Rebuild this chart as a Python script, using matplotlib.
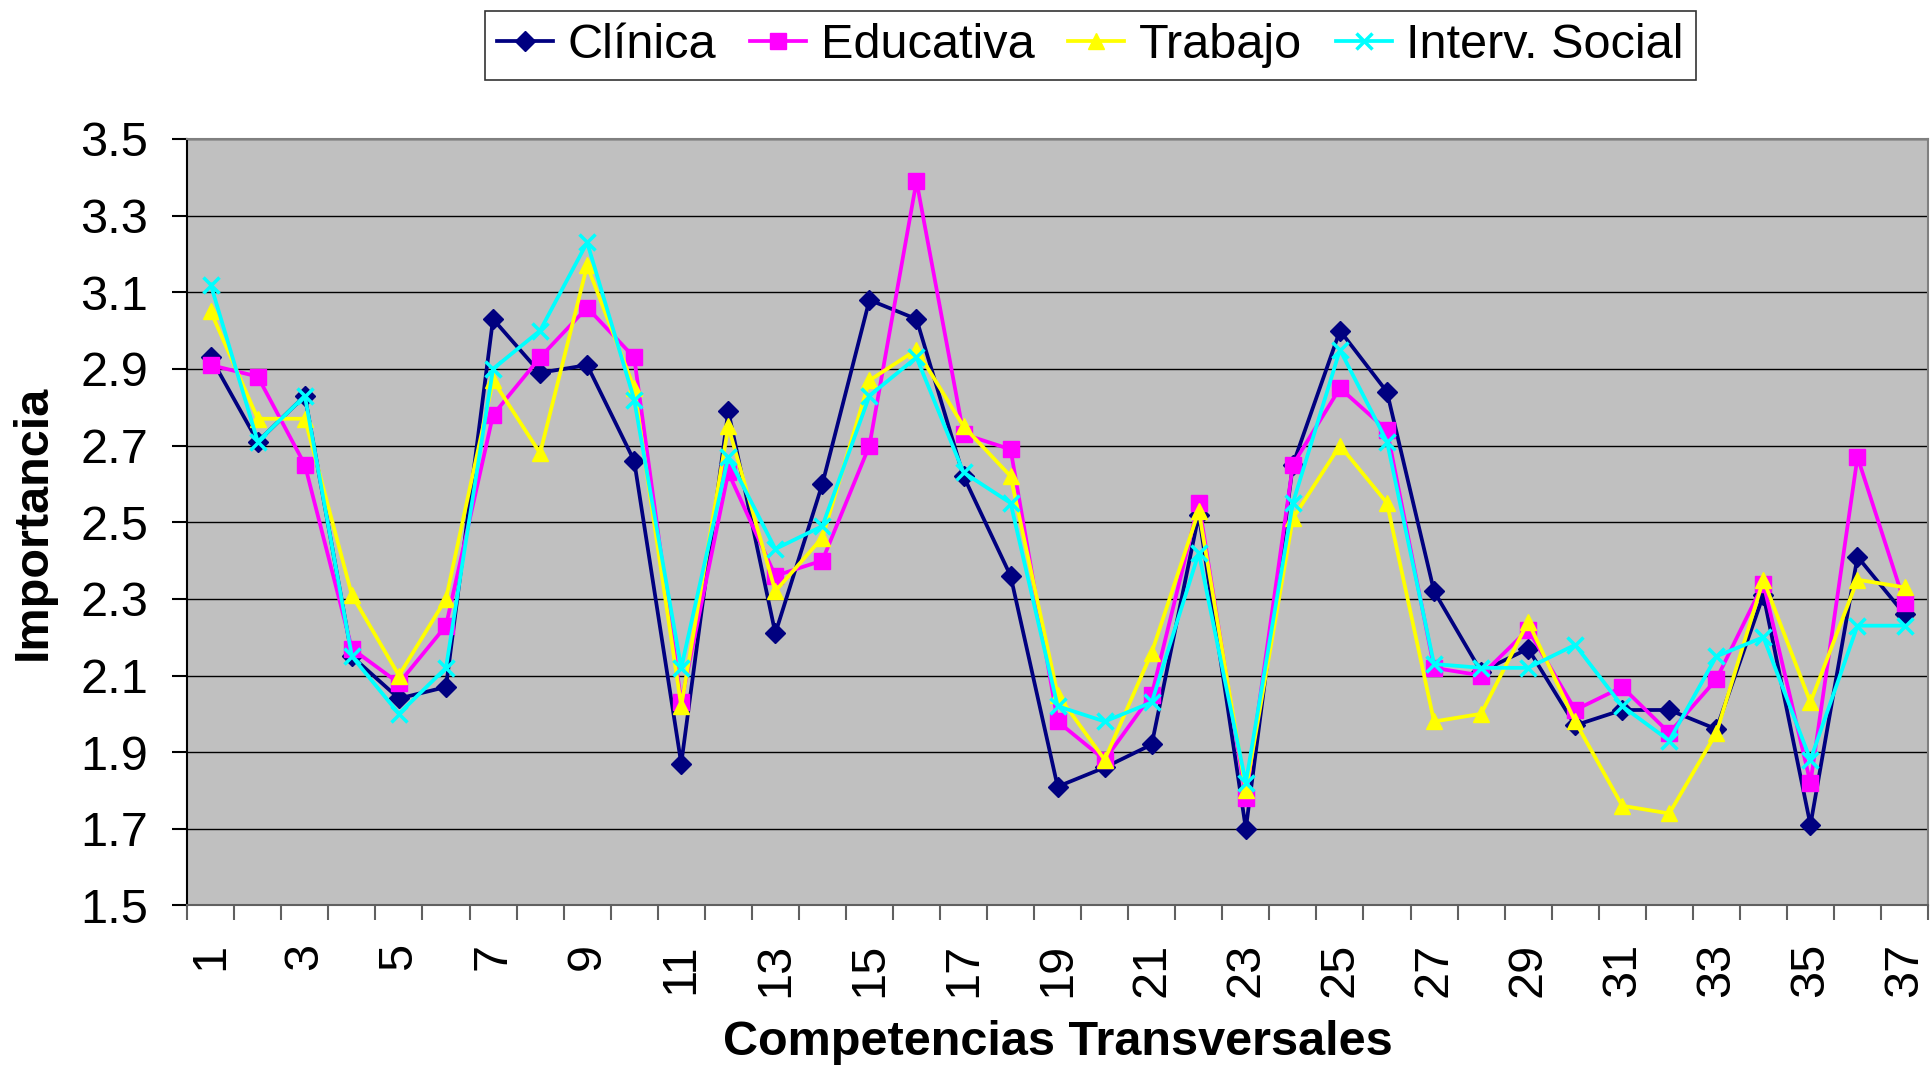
import numpy as np
import matplotlib
matplotlib.use('Agg')
import matplotlib.pyplot as plt
from matplotlib.ticker import FixedLocator, NullFormatter

plt.rcParams['font.family'] = ['Liberation Sans', 'DejaVu Sans']

# competencias 1..37
competencias = list(range(1, 38))

clinica = [2.93, 2.71, 2.83, 2.15, 2.04, 2.07, 3.03, 2.89, 2.91, 2.66,
           1.87, 2.79, 2.21, 2.60, 3.08, 3.03, 2.62, 2.36, 1.81, 1.86,
           1.92, 2.52, 1.70, 2.65, 3.00, 2.84, 2.32, 2.11, 2.17, 1.97,
           2.01, 2.01, 1.96, 2.31, 1.71, 2.41, 2.26]
educativa = [2.91, 2.88, 2.65, 2.17, 2.08, 2.23, 2.78, 2.93, 3.06, 2.93,
             2.03, 2.63, 2.36, 2.40, 2.70, 3.39, 2.73, 2.69, 1.98, 1.88,
             2.05, 2.55, 1.78, 2.65, 2.85, 2.74, 2.12, 2.10, 2.22, 2.01,
             2.07, 1.95, 2.09, 2.34, 1.82, 2.67, 2.29]
trabajo = [3.05, 2.77, 2.77, 2.31, 2.10, 2.30, 2.87, 2.68, 3.17, 2.85,
           2.02, 2.75, 2.32, 2.46, 2.87, 2.95, 2.75, 2.62, 2.05, 1.88,
           2.16, 2.53, 1.80, 2.51, 2.70, 2.55, 1.98, 2.00, 2.24, 1.98,
           1.76, 1.74, 1.95, 2.35, 2.03, 2.35, 2.33]
social = [3.12, 2.71, 2.83, 2.15, 2.00, 2.12, 2.90, 3.00, 3.23, 2.82,
          2.12, 2.67, 2.43, 2.49, 2.83, 2.93, 2.63, 2.55, 2.02, 1.98,
          2.03, 2.42, 1.82, 2.55, 2.95, 2.71, 2.13, 2.12, 2.12, 2.18,
          2.02, 1.93, 2.15, 2.20, 1.88, 2.23, 2.23]

series = [
    ('Clínica', clinica, '#000080', 'D', 10),
    ('Educativa', educativa, '#FF00FF', 's', 11),
    ('Trabajo', trabajo, '#FFFF00', '^', 12),
    ('Interv. Social', social, '#00FFFF', 'x', 12),
]

FS = 35

fig = plt.figure(figsize=(19.30, 10.69), dpi=100)
ax = fig.add_axes([0.097, 0.153, 0.902, 0.717])
ax.set_facecolor('#C0C0C0')

for nombre, vals, col, mk, ms in series:
    ax.plot(competencias, vals, color=col, marker=mk, markersize=ms,
            linewidth=2.7, markeredgewidth=2.5 if mk == 'x' else 1,
            markeredgecolor=col, label=nombre)

ax.set_xlim(0.5, 37.5)
ax.set_ylim(1.5, 3.5)
ax.set_yticks(np.arange(1.5, 3.51, 0.2))
ax.set_yticklabels([f'{v:.1f}' for v in np.arange(1.5, 3.51, 0.2)])
ax.yaxis.grid(True, color='black', linewidth=1)
ax.set_axisbelow(True)

ax.xaxis.set_major_locator(FixedLocator(np.arange(0.5, 38, 1)))
ax.xaxis.set_major_formatter(NullFormatter())
ax.xaxis.set_minor_locator(FixedLocator(competencias[::2]))
ax.set_xticklabels([str(c) for c in competencias[::2]], minor=True, rotation=90)
ax.tick_params(axis='x', which='major', length=11, color='#606060', width=1.5)
ax.tick_params(axis='x', which='minor', length=0, labelsize=FS, pad=27)
ax.tick_params(axis='y', length=11, width=1.5, labelsize=FS, pad=17)

for s in ['top', 'right']:
    ax.spines[s].set_color('#808080')
ax.spines['bottom'].set_color('#606060')
ax.spines['left'].set_color('black')
for s in ax.spines.values():
    s.set_linewidth(1.5)

ax.set_ylabel('Importancia', fontsize=FS, fontweight='bold')
ax.yaxis.set_label_coords(-0.0758, 0.5)
ax.set_xlabel('Competencias Transversales', fontsize=FS, fontweight='bold')
ax.xaxis.set_label_coords(0.5, -0.150)

leg = fig.legend(loc='center', bbox_to_anchor=(0.565, 0.9575), ncol=4,
                 fontsize=FS, frameon=True, fancybox=False, edgecolor='black',
                 handlelength=1.15, handletextpad=0.3, columnspacing=0.7,
                 borderpad=0.25, borderaxespad=0)
leg.get_frame().set_linewidth(1.2)

fig.savefig('out.png', dpi=100)
